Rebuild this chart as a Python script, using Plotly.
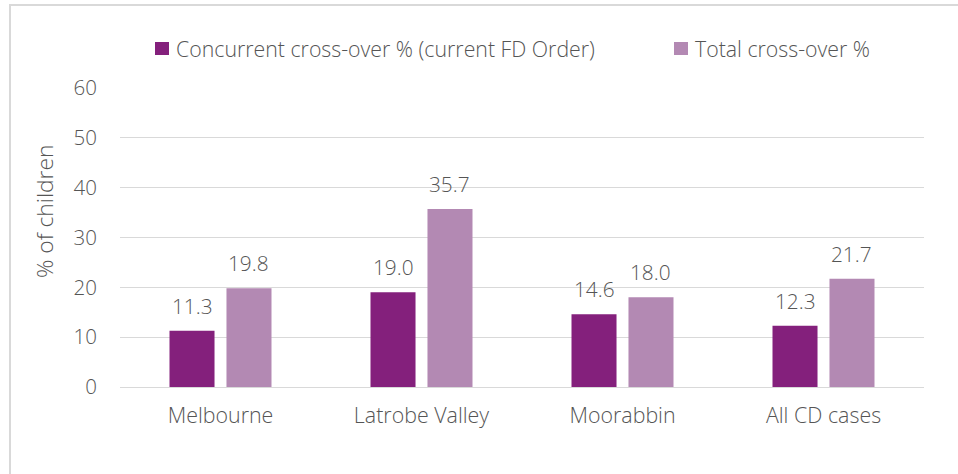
import plotly.graph_objects as go

categories = ["Melbourne", "Latrobe Valley", "Moorabbin", "All CD cases"]
concurrent = [11.3, 19.0, 14.6, 12.3]
total = [19.8, 35.7, 18.0, 21.7]
series_names = ["Concurrent cross-over % (current FD Order)", "Total cross-over %"]
y_ticks = [0, 10, 20, 30, 40, 50, 60]

FONT = "Open Sans"
WT = 300
TXT = "#555555"
C1 = "#84207C"
C2 = "#B389B3"

W, H = 958, 474
L, R, T, B = 120, 34, 88, 87
PW, PH = W - L - R, H - T - B


def px_x(p):
    return (p - L) / PW


def px_y(p):
    return 1 - (p - T) / PH


def f(size):
    return dict(family=FONT, size=size, color=TXT, weight=WT)


fig = go.Figure()
fig.add_trace(go.Bar(x=categories, y=concurrent, name=series_names[0],
                     marker=dict(color=C1, line=dict(width=0))))
fig.add_trace(go.Bar(x=categories, y=total, name=series_names[1],
                     marker=dict(color=C2, line=dict(width=0))))

fig.update_layout(
    width=W, height=H,
    margin=dict(l=L, r=R, t=T, b=B, autoexpand=False),
    paper_bgcolor="white", plot_bgcolor="white",
    barmode="group", bargap=0.433, bargroupgap=0.21,
    font=f(20),
    showlegend=False,
    xaxis=dict(
        showgrid=False, showline=False, ticks="", ticklabelstandoff=14,
        tickfont=f(21.4),
    ),
    yaxis=dict(
        range=[0, 60], tickvals=y_ticks, showgrid=True,
        gridcolor="#D9D9D9", gridwidth=1, zeroline=True,
        zerolinecolor="#D9D9D9", zerolinewidth=1,
        showline=False, ticks="", ticklabelstandoff=22,
        tickfont=f(20.5),
    ),
)

# data labels
slot = PW / len(categories) * (1 - 0.433) / 2
for vals, sh in ((concurrent, -slot / 2), (total, slot / 2)):
    for c, v in zip(categories, vals):
        fig.add_annotation(x=c, y=v, xref="x", yref="y", text=f"{v:.1f}",
                           showarrow=False, xshift=sh, yshift=25,
                           yanchor="middle", xanchor="center", font=f(20.8))

# legend (manual, to match spacing)
for (sx, tx), name, col in zip(((155, 174), (674, 693)), series_names, (C1, C2)):
    fig.add_shape(type="rect", xref="paper", yref="paper",
                  x0=px_x(sx), x1=px_x(sx + 14), y0=px_y(55), y1=px_y(42),
                  fillcolor=col, line=dict(width=0))
    fig.add_annotation(text=name, xref="paper", yref="paper",
                       x=px_x(tx), y=px_y(48.5), xanchor="left", yanchor="middle",
                       showarrow=False, font=f(21.3))

fig.add_annotation(
    text="% of children", textangle=-90, xref="paper", yref="paper",
    x=px_x(44), y=px_y(212), xanchor="center", yanchor="middle", showarrow=False,
    font=f(22.8),
)
# chart border
fig.add_shape(
    type="rect", xref="paper", yref="paper",
    x0=px_x(10), x1=px_x(W + 20), y0=px_y(H + 20), y1=px_y(5),
    line=dict(color="#D9D9D9", width=2), fillcolor="rgba(0,0,0,0)",
    layer="below",
)

fig.write_html("out.html", config={"displayModeBar": False},
               post_script="document.body.style.margin='0';document.body.style.overflow='hidden';")
